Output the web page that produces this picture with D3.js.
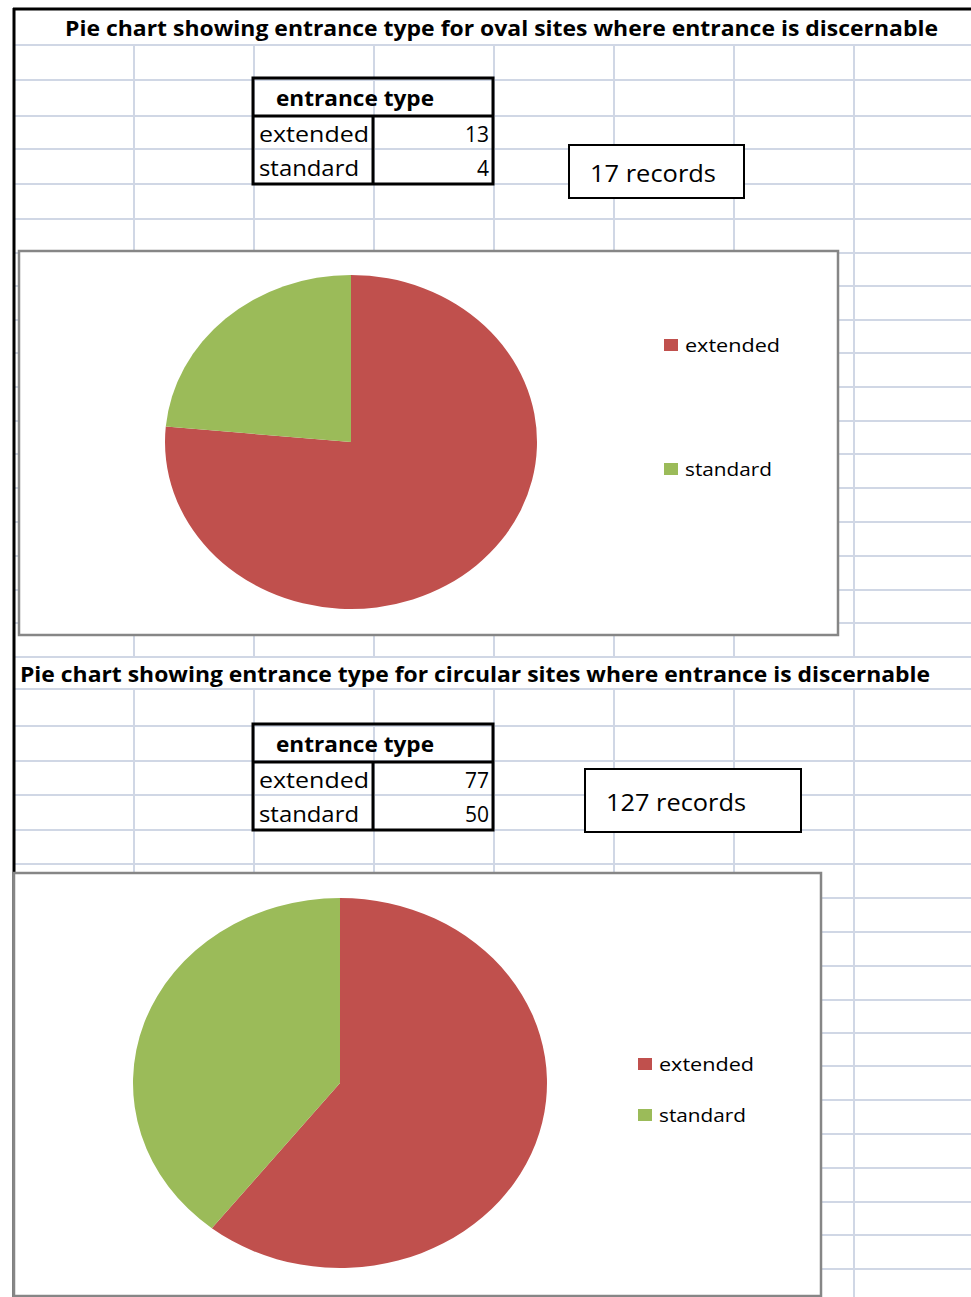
<!DOCTYPE html>
<html>
<head>
<meta charset="utf-8">
<style>
  body { margin: 0; background: #fff; }
  svg { display: block; }
  .grid line { stroke: #d0d7e5; stroke-width: 2; }
  .title { font-family: "Open Sans", sans-serif; font-weight: bold; font-size: 21px; fill: #000; }
  .cell { font-family: "Open Sans", sans-serif; font-size: 21px; fill: #000; }
  .head { font-family: "Open Sans", sans-serif; font-weight: bold; font-size: 21px; fill: #000; }
  .legend text { font-family: "Open Sans", sans-serif; font-size: 18px; fill: #000; }
  .box { font-family: "Open Sans", sans-serif; font-size: 24px; fill: #000; }
</style>
<script src="https://d3js.org/d3.v7.min.js"></script>
</head>
<body>
<svg width="971" height="1297"></svg>
<script>
// data
var categories = ["extended", "standard"];
var ovalCounts = [13, 4];
var circularCounts = [77, 50];
var titles = [
  "Pie chart showing entrance type for oval sites where entrance is discernable",
  "Pie chart showing entrance type for circular sites where entrance is discernable"
];
var recordLabels = ["17 records", "127 records"];

var svg = d3.select("svg");
var color = d3.scaleOrdinal().domain(categories).range(["#c0504d", "#9bbb59"]);

// spreadsheet grid
var colLines = [134, 254, 374, 494, 614, 734, 854];
var rowLines = [45, 80, 116, 149, 184, 219, 253, 286, 320, 353, 387, 421, 454, 488, 522,
  556, 590, 623, 657, 689, 726, 761, 795, 830, 864, 898, 932, 966, 1000, 1033, 1066,
  1100, 1134, 1168, 1202, 1235, 1269];

var grid = svg.append("g").attr("class", "grid");
grid.selectAll(".h").data(rowLines).enter().append("line")
  .attr("x1", 14).attr("x2", 971).attr("y1", function(d) { return d; }).attr("y2", function(d) { return d; });
// vertical lines skip merged title rows
[[45, 657], [689, 1297]].forEach(function(seg) {
  grid.selectAll(null).data(colLines).enter().append("line")
    .attr("x1", function(d) { return d; }).attr("x2", function(d) { return d; })
    .attr("y1", seg[0]).attr("y2", seg[1]);
});

// sheet borders
svg.append("line").attr("x1", 13).attr("x2", 971).attr("y1", 9).attr("y2", 9)
  .attr("stroke", "#000").attr("stroke-width", 3);
svg.append("line").attr("x1", 14).attr("x2", 14).attr("y1", 8).attr("y2", 1297)
  .attr("stroke", "#000").attr("stroke-width", 3);

// layout per section
var sections = [
  { counts: ovalCounts, titleX: 65, titleY: 36, titleW: 873,
    tableY: 78, boxX: 569, boxY: 145, boxW: 175, boxH: 53, textW: 126,
    chart: { x: 19, y: 251, w: 819, h: 384 },
    pie: { cx: 351, cy: 442, rx: 186, ry: 167 },
    legend: { x: 664, y: 339, gap: 124 } },
  { counts: circularCounts, titleX: 20, titleY: 682, titleW: 910,
    tableY: 724, boxX: 585, boxY: 769, boxW: 216, boxH: 63, textW: 140,
    chart: { x: 14, y: 873, w: 807, h: 423 },
    pie: { cx: 340, cy: 1083, rx: 207, ry: 185 },
    legend: { x: 638, y: 1058, gap: 51 } }
];

sections.forEach(function(s, i) {
  // title
  svg.append("text").attr("class", "title")
    .attr("x", s.titleX).attr("y", s.titleY)
    .attr("textLength", s.titleW).attr("lengthAdjust", "spacingAndGlyphs")
    .text(titles[i]);

  // data table
  var t = svg.append("g").attr("transform", "translate(253," + s.tableY + ")");
  t.append("rect").attr("x", 0).attr("y", 0).attr("width", 240).attr("height", 106)
    .attr("fill", "none").attr("stroke", "#000").attr("stroke-width", 3);
  t.append("line").attr("x1", 0).attr("x2", 240).attr("y1", 38).attr("y2", 38)
    .attr("stroke", "#000").attr("stroke-width", 3);
  t.append("line").attr("x1", 120).attr("x2", 120).attr("y1", 38).attr("y2", 106)
    .attr("stroke", "#000").attr("stroke-width", 3);
  t.append("text").attr("class", "head").attr("x", 23).attr("y", 28)
    .attr("textLength", 158).attr("lengthAdjust", "spacingAndGlyphs").text("entrance type");
  categories.forEach(function(c, j) {
    t.append("text").attr("class", "cell").attr("x", 6).attr("y", 64 + j * 34)
      .attr("textLength", c === "extended" ? 110 : 100).attr("lengthAdjust", "spacingAndGlyphs")
      .text(c);
    t.append("text").attr("class", "cell").attr("x", 236).attr("y", 64 + j * 34)
      .attr("text-anchor", "end").text(s.counts[j]);
  });

  // record count box
  svg.append("rect").attr("x", s.boxX).attr("y", s.boxY).attr("width", s.boxW).attr("height", s.boxH)
    .attr("fill", "#fff").attr("stroke", "#000").attr("stroke-width", 2);
  svg.append("text").attr("class", "box").attr("x", s.boxX + 21).attr("y", s.boxY + s.boxH / 2 + 10)
    .attr("textLength", s.textW).attr("lengthAdjust", "spacingAndGlyphs")
    .text(recordLabels[i]);

  // chart area
  svg.append("rect").attr("x", s.chart.x).attr("y", s.chart.y)
    .attr("width", s.chart.w).attr("height", s.chart.h)
    .attr("fill", "#fff").attr("stroke", "#868686").attr("stroke-width", 2.5);

  var pie = d3.pie().sort(null).value(function(d) { return d.value; });
  var arc = d3.arc().innerRadius(0).outerRadius(s.pie.rx);
  var data = categories.map(function(c, j) { return { key: c, value: s.counts[j] }; });

  var g = svg.append("g")
    .attr("transform", "translate(" + s.pie.cx + "," + s.pie.cy + ") scale(1," + (s.pie.ry / s.pie.rx) + ")");
  g.selectAll("path").data(pie(data)).enter().append("path")
    .attr("d", arc)
    .attr("fill", function(d) { return color(d.data.key); });

  // legend
  var lg = svg.append("g").attr("class", "legend")
    .attr("transform", "translate(" + s.legend.x + "," + s.legend.y + ")");
  var item = lg.selectAll("g").data(categories).enter().append("g")
    .attr("transform", function(d, j) { return "translate(0," + (j * s.legend.gap) + ")"; });
  item.append("rect").attr("width", 14).attr("height", 12).attr("fill", function(d) { return color(d); });
  item.append("text").attr("x", 21).attr("y", 13)
    .attr("textLength", function(d) { return d === "extended" ? 95 : 87; })
    .attr("lengthAdjust", "spacingAndGlyphs")
    .text(function(d) { return d; });
});
</script>
</body>
</html>
